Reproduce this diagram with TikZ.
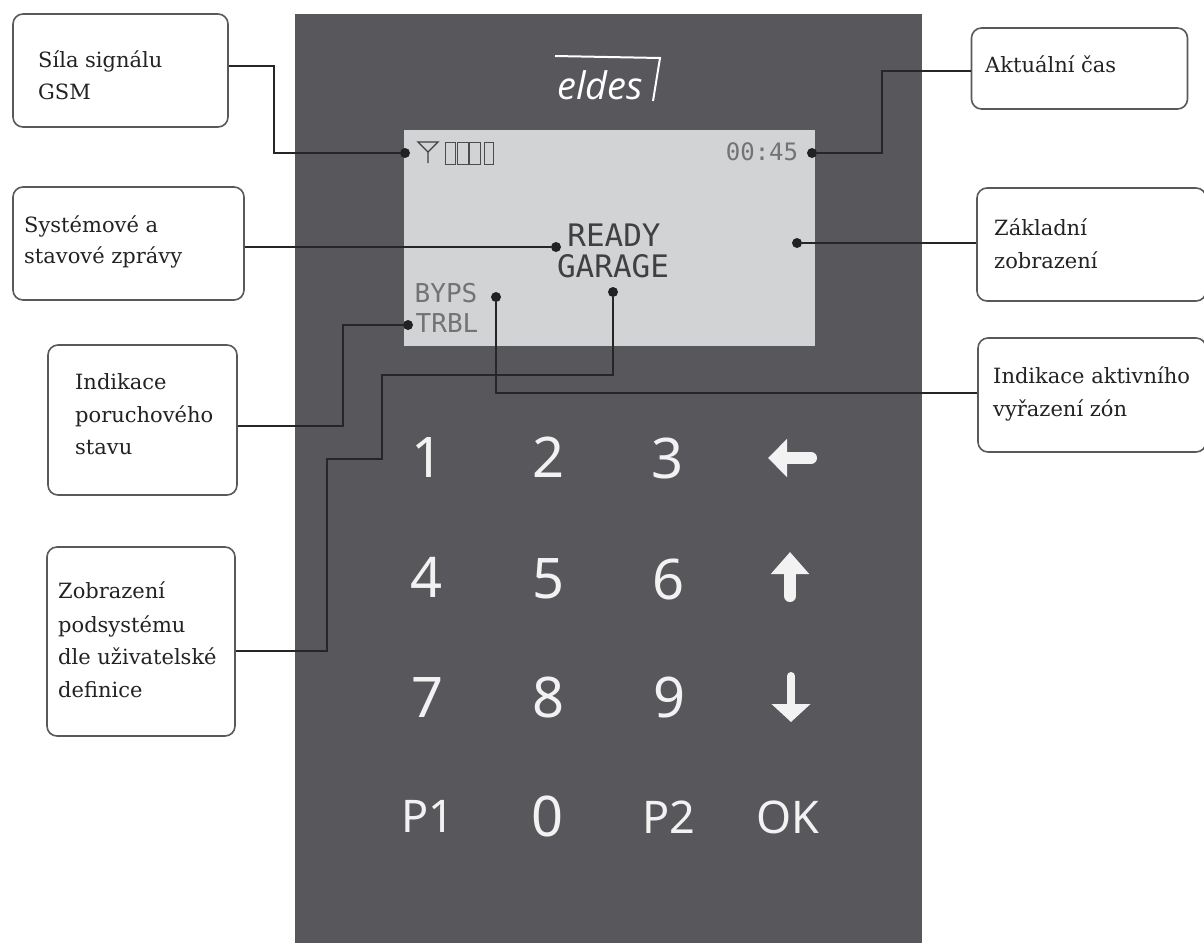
\documentclass[tikz,border=0pt]{standalone}
\usepackage{fontspec}
\usetikzlibrary{arrows.meta}
\setmainfont{DejaVu Serif}
\newfontfamily\keyfont{Noto Sans}
\newfontfamily\lcdfont{DejaVu Sans Mono}
\newfontfamily\logofont{Open Sans}
\definecolor{panel}{HTML}{58585C}
\definecolor{lcd}{HTML}{D1D3D5}
\definecolor{ink}{HTML}{222222}
\definecolor{keywhite}{HTML}{F2F2F2}
\tikzset{
  x=1pt,y=-1pt,
  callout/.style={draw=black!65,line width=1.6pt,rounded corners=10pt,fill=white,inner sep=0pt,minimum width=#1},
  label text/.style={font=\fontsize{21}{24}\selectfont,text=ink,anchor=base west,inner sep=0pt},
  wire/.style={draw=black!85,line width=1.2pt},
  pin/.style={circle,fill=ink,inner sep=0pt,minimum size=10pt},
  keycap/.style={font=\keyfont\fontsize{56}{56}\selectfont,text=keywhite,inner sep=0pt},
  keylabel/.style={font=\keyfont\fontsize{45}{45}\selectfont,text=keywhite,inner sep=0pt},
  lcdbig/.style={font=\lcdfont\fontsize{31}{31}\selectfont,text=black!75,inner sep=0pt},
  lcdsmall/.style={font=\lcdfont\fontsize{26}{26}\selectfont,text=black!55,inner sep=0pt},
  keyarrow/.style={keywhite,line cap=round,-{Triangle[length=#1]}},
}
\begin{document}
\begin{tikzpicture}
\useasboundingbox (0,0) rectangle (1204,943);
\fill[white] (0,0) rectangle (1204,943);
\fill[panel] (295,14) rectangle (922,943);
\fill[lcd] (404,130) rectangle (815,346);

% logo
\node[font=\logofont\itshape\fontsize{38}{38}\selectfont,text=white,inner sep=0pt] (logo) at (600,85) {eldes};
\draw[white,line width=2pt] (555,56) -- (660,58) -- (653,101);

% lcd contents
\draw[black!75,line width=1.3pt] (418,142) -- (428,152) -- (438,142) -- cycle (428,152) -- (428,163);
\foreach \xa/\xb in {445/455,457/468,469/480,484/493}{\draw[black!70,line width=1pt] (\xa,142) rectangle (\xb,164);}
\node[lcdsmall,font=\lcdfont\fontsize{24}{24}\selectfont] (clock) at (762,152) {00:45};
\node[lcdbig] (ready) at (614,235) {READY};
\node[lcdbig] (garage) at (613,266) {GARAGE};
\node[lcdsmall] (byps) at (446,293) {BYPS};
\node[lcdsmall] (trbl) at (447,323) {TRBL};

% boxes
\node[callout=215pt,minimum height=113pt] (a) at (120.5,70.5) {};
\node[label text] (a1) at (38,67) {Síla signálu};
\node[label text] (a2) at (38,99) {GSM};
\node[callout=231pt,minimum height=113pt] (b) at (128.5,243.5) {};
\node[label text] (b1) at (24,232) {Systémové a};
\node[label text] (b2) at (24,263) {stavové zprávy};
\node[callout=189pt,minimum height=150pt] (c) at (142.5,420) {};
\node[label text] (c1) at (75,389) {Indikace};
\node[label text] (c2) at (75,422) {poruchového};
\node[label text] (c3) at (75,454) {stavu};
\node[callout=188pt,minimum height=189pt] (d) at (141,641.5) {};
\node[label text] (d1) at (58,598) {Zobrazení};
\node[label text] (d2) at (58,632) {podsystému};
\node[label text] (d3) at (58,664) {dle uživatelské};
\node[label text] (d4) at (58,697) {definice};
\node[callout=216pt,minimum height=81pt] (e) at (1079.5,68.5) {};
\node[label text] (e1) at (985,72) {Aktuální čas};
\node[callout=229pt,minimum height=113pt] (f) at (1091.5,244.5) {};
\node[label text] (f1) at (994,235) {Základní};
\node[label text] (f2) at (994,268) {zobrazení};
\node[callout=228pt,minimum height=114pt] (g) at (1092,395) {};
\node[label text] (g1) at (993,383) {Indikace aktivního};
\node[label text] (g2) at (993,416) {vyřazení zón};

% pins
\node[pin] (p1) at (405,153) {};
\node[pin] (p2) at (556,247) {};
\node[pin] (p3) at (408,325) {};
\node[pin] (p4) at (613,292) {};
\node[pin] (p5) at (496,297) {};
\node[pin] (p6) at (812,153) {};
\node[pin] (p7) at (797,243) {};

% wires
\draw[wire] (a.east |- 0,66) -- (274,66) |- (p1);
\draw[wire] (b.east |- p2) -- (p2);
\draw[wire] (c.east |- 0,426) -- (343,426) |- (p3);
\draw[wire] (d.east |- 0,651) -- (327,651) -- (327,459) -- (382,459) -- (382,375) -| (p4);
\draw[wire] (g.west |- 0,393) -| (p5);
\draw[wire] (e.west |- 0,71) -- (882,71) |- (p6);
\draw[wire] (f.west |- p7) -- (p7);

% keypad
\node[keycap] (k1) at (428,457) {1};
\node[keycap] (k2) at (549,457) {2};
\node[keycap] (k3) at (668,458) {3};
\node[keycap] (k4) at (427,577) {4};
\node[keycap] (k5) at (549,579) {5};
\node[keycap] (k6) at (669,579) {6};
\node[keycap] (k7) at (428,697) {7};
\node[keycap] (k8) at (549,697) {8};
\node[keycap] (k9) at (670,697) {9};
\node[keycap] (k0) at (548,816) {0};
\node[keylabel] (kp1) at (428,816) {P1};
\node[keylabel] (kp2) at (669,817) {P2};
\node[keylabel] (kok) at (788,817) {OK};
\coordinate (la1) at (811,458); \coordinate (la2) at (768,458);
\coordinate (ua1) at (790,596); \coordinate (ua2) at (790,552);
\coordinate (da1) at (791,676); \coordinate (da2) at (791,722);
\draw[keyarrow=19pt,arrows={-{Triangle[length=19pt,width=37pt]}},line width=12pt] (la1) -- (la2);
\draw[keyarrow=22pt,arrows={-{Triangle[length=22pt,width=37pt]}},line width=12pt] (ua1) -- (ua2);
\draw[keyarrow=18pt,arrows={-{Triangle[length=18pt,width=38pt]}},line width=8pt] (da1) -- (da2);
\end{tikzpicture}
\end{document}
